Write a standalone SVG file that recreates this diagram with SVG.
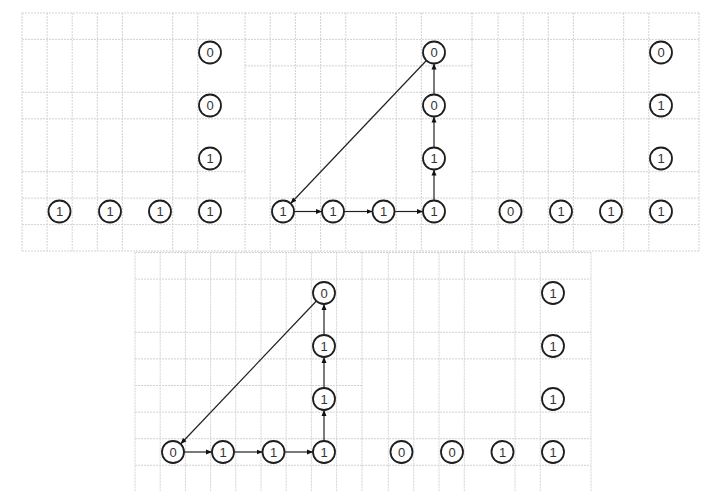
<svg xmlns="http://www.w3.org/2000/svg" width="710" height="500" viewBox="0 0 710 500">
<style>
.grid{fill:none;stroke:#d2d2d2;stroke-width:1;stroke-dasharray:2,1}
.node circle{fill:#fff;stroke:#1e1e1e;stroke-width:1.8}
.node text{font-family:"Liberation Sans",Arial,sans-serif;font-size:13px;fill:#333;text-anchor:middle;dominant-baseline:central}
.edge{fill:none;stroke:#222;stroke-width:1.2;marker-end:url(#ah)}
</style>
<defs>
<marker id="ah" markerUnits="userSpaceOnUse" markerWidth="7" markerHeight="6" refX="6" refY="3" orient="auto">
<path d="M0,0.5 L6,3 L0,5.5 z" fill="#111"/>
</marker>
</defs>
<rect width="710" height="500" fill="#fff"/>

<g id="grids">
<path class="grid" d="M22 13V251 M47.1 13V251 M72.2 13V251 M97.3 13V251 M122.4 13V251 M172.7 13V251 M197.8 13V251 M22 13H245 M22 39.4H245 M22 92.3H245 M22 118.8H245 M22 171.7H245 M22 198.1H245 M22 224.6H245 M22 251H245"/>
<path class="grid" d="M245 13V251 M270.2 13V251 M295.4 13V251 M320.6 13V251 M345.8 13V251 M396.2 13V251 M421.4 13V251 M472 13V251 M245 13H472 M245 39.4H472 M245 65.9H472 M245 92.3H472 M245 118.8H472 M245 198.1H472 M245 224.6H472 M245 251H472"/>
<path class="grid" d="M498.1 13V251 M523.2 13V251 M548.3 13V251 M573.4 13V251 M623.7 13V251 M648.8 13V251 M699 13V251 M472 13H699 M472 39.4H699 M472 92.3H699 M472 118.8H699 M472 171.7H699 M472 198.1H699 M472 224.6H699 M472 251H699"/>
<path class="grid" d="M135 252.5V491 M160.2 252.5V491 M185.4 252.5V491 M210.6 252.5V491 M235.8 252.5V491 M261 252.5V491 M286.2 252.5V491 M311.4 252.5V491 M336.6 252.5V491 M362 252.5V491 M135 252.5H362 M135 279.1H362 M135 332.3H362 M135 358.9H362 M135 385.5H362 M135 412.1H362 M135 438.7H362 M135 465.3H362"/>
<path class="grid" d="M388.3 252.5V491 M413.7 252.5V491 M439 252.5V491 M464.3 252.5V491 M515 252.5V491 M540.3 252.5V491 M591 252.5V491 M362 252.5H591 M362 279.1H591 M362 332.3H591 M362 358.9H591 M362 412.1H591 M362 438.7H591 M362 465.3H591"/>
</g>

<g id="connectors">
<line class="edge" x1="294" y1="211.5" x2="322" y2="211.5"/>
<line class="edge" x1="344" y1="211.5" x2="372.5" y2="211.5"/>
<line class="edge" x1="394.5" y1="211.5" x2="423" y2="211.5"/>
<line class="edge" x1="434" y1="200.5" x2="434" y2="169.5"/>
<line class="edge" x1="434" y1="147.5" x2="434" y2="116.5"/>
<line class="edge" x1="434" y1="94.5" x2="434" y2="63.5"/>
<line class="edge" x1="426.4" y1="60.5" x2="290.6" y2="203.5"/>
<line class="edge" x1="184" y1="452" x2="212" y2="452"/>
<line class="edge" x1="234" y1="452" x2="262.5" y2="452"/>
<line class="edge" x1="284.5" y1="452" x2="313" y2="452"/>
<line class="edge" x1="324" y1="441" x2="324" y2="410"/>
<line class="edge" x1="324" y1="388" x2="324" y2="357"/>
<line class="edge" x1="324" y1="335" x2="324" y2="304"/>
<line class="edge" x1="316.4" y1="301" x2="180.6" y2="444"/>
</g>

<g id="p1-c1" class="node" transform="translate(210,52.5)"><circle r="11"/><text>0</text></g>
<g id="p1-c2" class="node" transform="translate(210,105.5)"><circle r="11"/><text>0</text></g>
<g id="p1-c3" class="node" transform="translate(210,158.5)"><circle r="11"/><text>1</text></g>
<g id="p1-c4" class="node" transform="translate(210,211.5)"><circle r="11"/><text>1</text></g>
<g id="p1-r1" class="node" transform="translate(59.5,211.5)"><circle r="11"/><text>1</text></g>
<g id="p1-r2" class="node" transform="translate(110,211.5)"><circle r="11"/><text>1</text></g>
<g id="p1-r3" class="node" transform="translate(160,211.5)"><circle r="11"/><text>1</text></g>

<g id="p2-c1" class="node" transform="translate(434,52.5)"><circle r="11"/><text>0</text></g>
<g id="p2-c2" class="node" transform="translate(434,105.5)"><circle r="11"/><text>0</text></g>
<g id="p2-c3" class="node" transform="translate(434,158.5)"><circle r="11"/><text>1</text></g>
<g id="p2-c4" class="node" transform="translate(434,211.5)"><circle r="11"/><text>1</text></g>
<g id="p2-r1" class="node" transform="translate(283,211.5)"><circle r="11"/><text>1</text></g>
<g id="p2-r2" class="node" transform="translate(333,211.5)"><circle r="11"/><text>1</text></g>
<g id="p2-r3" class="node" transform="translate(383.5,211.5)"><circle r="11"/><text>1</text></g>

<g id="p3-c1" class="node" transform="translate(661,52.5)"><circle r="11"/><text>0</text></g>
<g id="p3-c2" class="node" transform="translate(661,105.5)"><circle r="11"/><text>1</text></g>
<g id="p3-c3" class="node" transform="translate(661,158.5)"><circle r="11"/><text>1</text></g>
<g id="p3-c4" class="node" transform="translate(661,211.5)"><circle r="11"/><text>1</text></g>
<g id="p3-r1" class="node" transform="translate(510.5,211.5)"><circle r="11"/><text>0</text></g>
<g id="p3-r2" class="node" transform="translate(561,211.5)"><circle r="11"/><text>1</text></g>
<g id="p3-r3" class="node" transform="translate(611,211.5)"><circle r="11"/><text>1</text></g>

<g id="p4-c1" class="node" transform="translate(324,293)"><circle r="11"/><text>0</text></g>
<g id="p4-c2" class="node" transform="translate(324,346)"><circle r="11"/><text>1</text></g>
<g id="p4-c3" class="node" transform="translate(324,399)"><circle r="11"/><text>1</text></g>
<g id="p4-c4" class="node" transform="translate(324,452)"><circle r="11"/><text>1</text></g>
<g id="p4-r1" class="node" transform="translate(173,452)"><circle r="11"/><text>0</text></g>
<g id="p4-r2" class="node" transform="translate(223,452)"><circle r="11"/><text>1</text></g>
<g id="p4-r3" class="node" transform="translate(273.5,452)"><circle r="11"/><text>1</text></g>

<g id="p5-c1" class="node" transform="translate(553,293)"><circle r="11"/><text>1</text></g>
<g id="p5-c2" class="node" transform="translate(553,346)"><circle r="11"/><text>1</text></g>
<g id="p5-c3" class="node" transform="translate(553,399)"><circle r="11"/><text>1</text></g>
<g id="p5-c4" class="node" transform="translate(553,452)"><circle r="11"/><text>1</text></g>
<g id="p5-r1" class="node" transform="translate(401.5,452)"><circle r="11"/><text>0</text></g>
<g id="p5-r2" class="node" transform="translate(452,452)"><circle r="11"/><text>0</text></g>
<g id="p5-r3" class="node" transform="translate(502.5,452)"><circle r="11"/><text>1</text></g>
</svg>
